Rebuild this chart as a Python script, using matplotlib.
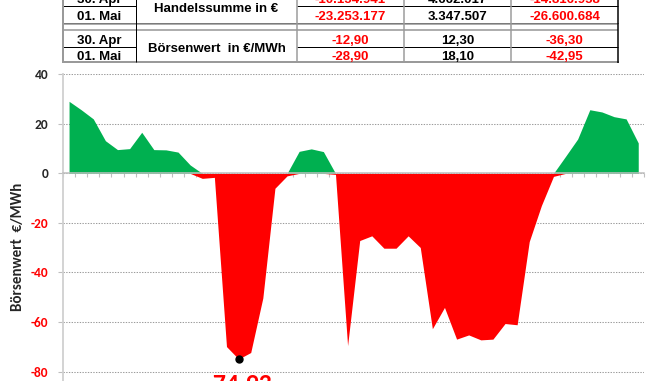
import numpy as np
import matplotlib
matplotlib.use("Agg")
import matplotlib.pyplot as plt
from matplotlib import font_manager as fm

# ---------------- data ----------------
values = [29.1, 25.7, 22.0, 13.2, 9.6, 10.0, 16.6, 9.6, 9.5, 8.6, 3.4, -2.0,
          -1.6, -69.9, -74.93, -72.3, -50.3, -6.0, -1.0, 8.9, 9.9, 8.8, -0.4, -69.5,
          -27.1, -25.2, -30.2, -30.2, -25.2, -29.9, -62.7, -54.1, -66.9, -65.2, -67.2, -66.9,
          -60.6, -61.1, -27.5, -13.0, -1.2, 6.9, 13.9, 25.7, 24.8, 22.9, 22.0, 12.3]
y_ticks = [40, 20, 0, -20, -40, -60, -80]
y_label = "Börsenwert  €/MWh"

table_dates = ["30. Apr", "01. Mai"]
table_label_1 = "Handelssumme in €"
table_label_2 = "Börsenwert  in €/MWh"
handel_col1 = ["-10.154.941", "-23.253.177"]
handel_col2 = ["4.662.017", "3.347.507"]
handel_col3 = ["-14.816.958", "-26.600.684"]
boerse_col1 = ["-12,90", "-28,90"]
boerse_col2 = ["12,30", "18,10"]
boerse_col3 = ["-36,30", "-42,95"]

GREEN = "#00b050"
RED = "#ff0000"
GRAY = "#bfbfbf"


def bold_family(cands):
    for fam in cands:
        try:
            p = fm.findfont(fm.FontProperties(family=fam, weight="bold"),
                            fallback_to_default=False)
        except Exception:
            continue
        if "bold" in p.lower() or "black" in p.lower() or "heavy" in p.lower():
            return fam
    return "DejaVu Sans"


ARIAL_B = bold_family(["Liberation Sans", "Arimo", "Arial", "Helvetica", "Roboto", "DejaVu Sans"])
CALIBRI_B = bold_family(["Carlito", "Lato", "Open Sans", "Noto Sans", "Roboto", "DejaVu Sans"])

W, H = 666, 381
fig = plt.figure(figsize=(W / 100, H / 100), dpi=100)

# ---------------- chart ----------------
ax_left, ax_right, ax_top = 63, 644.3, 74.3
ax = fig.add_axes([ax_left / W, 0, (ax_right - ax_left) / W, (H - ax_top) / H])
ax.set_axisbelow(True)
v = np.array(values)
x = np.arange(len(v))
pos = np.where(v > 0, v, 0)
neg = np.where(v < 0, v, 0)
ax.fill_between(x, 0, pos, color=GREEN, lw=0, zorder=1)
ax.fill_between(x, 0, neg, color=RED, lw=0, zorder=1)

imin = int(np.argmin(v))
ax.plot(imin, v[imin], "o", color="black", ms=5, zorder=5)
ax.annotate(f"{v[imin]:.2f}".replace(".", ","), xy=(imin, v[imin]), xytext=(0, -23.4),
            textcoords="offset points", ha="center", va="baseline",
            color=RED, fontsize=18.5, fontweight="bold", family=CALIBRI_B,
            annotation_clip=False)

ax.set_xlim(-0.5, len(v) - 0.5)
ax.set_ylim(-83.8, 40)
ax.set_yticks(y_ticks)
ax.set_yticklabels([str(t) for t in y_ticks])
for lab, t in zip(ax.get_yticklabels(), y_ticks):
    lab.set_color(RED if t < 0 else "#262626")
    lab.set_fontweight("bold")
    lab.set_family(CALIBRI_B)
    lab.set_fontsize(9.6)
ax.tick_params(axis="y", length=3.4, width=0.8, color=GRAY, pad=7.0)
ax.set_xticks(np.arange(-0.5, len(v), 1.0))
ax.set_xticklabels([])
ax.tick_params(axis="x", direction="out", length=3.2, width=0.8, color=GRAY)

ax.grid(axis="y", color="#9c9c9c", lw=0.75, ls=(0, (1.3, 1.3)))
ax.grid(axis="x", visible=False)

for s in ["top", "right"]:
    ax.spines[s].set_visible(False)
ax.spines["bottom"].set_position(("data", 0))
ax.spines["bottom"].set_color(GRAY)
ax.spines["bottom"].set_linewidth(1.1)
ax.spines["bottom"].set_zorder(3)
ax.spines["left"].set_color("#d0d0d0")
ax.spines["left"].set_linewidth(1.3)
ax.set_facecolor("white")

fig.text(18.3 / W, 1 - 247 / H, y_label, rotation=90, ha="center", va="center",
         fontsize=10.8, fontweight="bold", family=CALIBRI_B, color="#262626")

# ---------------- table overlay ----------------
tab = fig.add_axes([0, 0, 1, 1], zorder=10)
tab.set_xlim(0, W)
tab.set_ylim(H, 0)
tab.axis("off")

px = 0.72
TG = "#9a9a9a"


def hline(y, x0, x1, c="black", w=1.0):
    tab.plot([x0, x1], [y, y], color=c, lw=w * px, solid_capstyle="butt")


def vline(xv, y0, y1, c="black", w=1.0):
    tab.plot([xv, xv], [y0, y1], color=c, lw=w * px, solid_capstyle="butt")


cols = [63, 136, 297, 404, 511, 618]
hline(6, 63, 136); hline(6, 297, 618)
hline(22.7, 63, 618)
hline(23.9, 63, 618, TG, 1.6)
hline(30.0, 63, 618, TG, 1.6)
hline(46.7, 63, 136); hline(46.7, 297, 618)
hline(62.3, 62, 619, TG, 2.0)
vline(63, -2, 63, TG, 2.0)
vline(136, -2, 62.3, "black", 1.0)
vline(297, -2, 62.3, TG, 1.5)
vline(404, -2, 62.3, TG, 1.5)
vline(511, -2, 62.3, TG, 1.5)
vline(618, -2, 63, "black", 1.5)

tkw = dict(ha="center", va="baseline", fontsize=9.5, fontweight="bold",
           family=ARIAL_B)
date_cx = (cols[0] + cols[1]) / 2
lab_cx = (cols[1] + cols[2]) / 2
c1 = (cols[2] + cols[3]) / 2
c2 = (cols[3] + cols[4]) / 2
c3 = (cols[4] + cols[5]) / 2

base_handel = [3.3, 20.5]
base_boerse = [44.2, 59.7]
for i in range(2):
    yb = base_handel[i]
    tab.text(date_cx, yb, table_dates[i], color="black", **tkw)
    tab.text(c1, yb, handel_col1[i], color=RED, **tkw)
    tab.text(c2, yb, handel_col2[i], color="black", **tkw)
    tab.text(c3, yb, handel_col3[i], color=RED, **tkw)
    yb = base_boerse[i]
    tab.text(date_cx, yb, table_dates[i], color="black", **tkw)
    tab.text(c1, yb, boerse_col1[i], color=RED, **tkw)
    tab.text(c2, yb, boerse_col2[i], color="black", **tkw)
    tab.text(c3, yb, boerse_col3[i], color=RED, **tkw)
tab.text(lab_cx, 12.0, table_label_1, color="black", **tkw)
tab.text(lab_cx, 52.0, table_label_2, color="black", **tkw)

fig.savefig("out.png", dpi=100)
